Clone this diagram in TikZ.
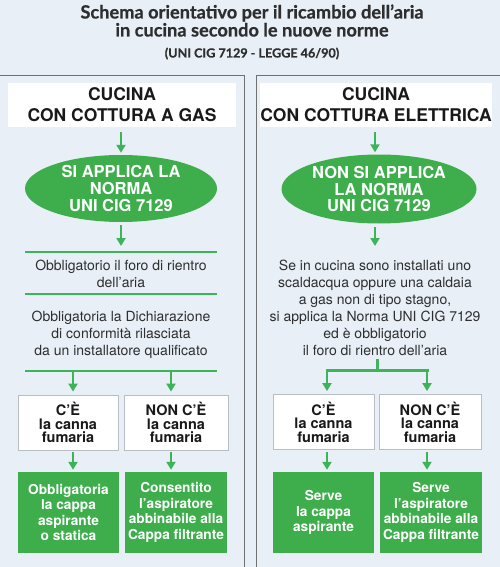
\documentclass[tikz,border=0pt]{standalone}
\usepackage{fontspec}
\setmainfont{TeX Gyre Heros}
\newfontfamily\titlefont[BoldFeatures={FakeBold=0.6}]{Lato}
\usetikzlibrary{shapes.geometric,arrows.meta}
\definecolor{bg}{HTML}{E8EFF7}
\definecolor{gfill}{HTML}{3DAE4B}
\definecolor{garrow}{HTML}{3DB45A}
\definecolor{pline}{HTML}{707070}
\definecolor{txt}{HTML}{2E2E2E}
\definecolor{bbord}{HTML}{B8BEC4}
\begin{document}
\begin{tikzpicture}[x=1pt,y=-1pt,
 hdr/.style={fill=white, minimum width=228pt, minimum height=44pt, inner sep=0pt, align=center, font=\fontsize{17.5}{21}\selectfont\bfseries, text=black!90},
 oval/.style={ellipse, fill=gfill, inner sep=0pt, align=center, text=white, font=\fontsize{16.5}{16.8}\selectfont\bfseries},
 body/.style={align=center, text=txt, font=\fontsize{14}{17}\selectfont, inner sep=0pt},
 wbox/.style={draw=bbord, fill=white, line width=0.8pt, minimum height=55pt, inner sep=0pt, align=center, font=\fontsize{14.5}{13.5}\selectfont\bfseries, text=black!90},
 gbox/.style={fill=gfill, minimum height=81pt, inner sep=0pt, align=center, text=white, font=\fontsize{13.7}{15.6}\selectfont\bfseries},
 garr/.style={draw=garrow, line width=2.6pt, -{Triangle[width=9pt,length=8pt]}},
 gline/.style={draw=garrow, line width=1.6pt},
 tline/.style={draw=garrow, line width=3pt},
 ttl/.style={inner sep=0pt, anchor=base, text=txt},
]
\useasboundingbox (0,0) rectangle (500,567);
\fill[bg] (0,0) rectangle (500,567);
% panel borders
\draw[pline, line width=0.9pt] (0,75) -- (244,75) -- (244,567);
\draw[pline, line width=0.9pt] (500,75) -- (256,75) -- (256,567);
% title
\node[ttl, font=\titlefont\fontsize{18.2}{20}\selectfont\bfseries] (t1) at (252,18.5) {Schema orientativo per il ricambio dell’aria};
\node[ttl, font=\titlefont\fontsize{18.2}{20}\selectfont\bfseries] (t2) at (252,36.5) {in cucina secondo le nuove norme};
\node[ttl, font=\titlefont\fontsize{12.6}{13}\selectfont\bfseries] (t3) at (252,57.5) {(UNI CIG 7129 - LEGGE 46/90)};

% ---------- left panel ----------
\node[hdr] (hL) at (122,105) {CUCINA\\CON COTTURA A GAS};
\node[oval, minimum width=192pt, minimum height=67pt] (eL) at (121,188.5) {SI APPLICA LA\\NORMA\\UNI CIG 7129};
\draw[garr, shorten <=5pt, shorten >=2pt] (hL.south -| eL.north) -- (eL.north);
\coordinate (l1a) at (25,252);
\coordinate (l1b) at (217,252);
\coordinate (l1m) at (121,252);
\draw[garr, shorten <=3pt, shorten >=6pt] (eL.south) -- (l1m);
\draw[gline] (l1a) -- (l1b);
\node[body, anchor=base] (bL1) at (121,287) {Obbligatorio il foro di rientro\\dell’aria};
\coordinate (l2a) at (25,294);
\coordinate (l2b) at (217,294);
\draw[gline] (l2a) -- (l2b);
\node[body, anchor=base] (bL2) at (121,355) {Obbligatoria la Dichiarazione\\di conformità rilasciata\\da un installatore qualificato};
\coordinate (l3a) at (25,371);
\coordinate (l3b) at (217,371);
\draw[gline] (l3a) -- (l3b);
\node[wbox, minimum width=100pt] (wL1) at (68,422.5) {C’È\\la canna\\fumaria};
\node[wbox, minimum width=104pt] (wL2) at (176,422.5) {NON C’È\\la canna\\fumaria};
\node[gbox, minimum width=101pt] (gL1) at (68.5,512.5) {Obbligatoria\\la cappa\\aspirante\\o statica};
\node[gbox, minimum width=102pt] (gL2) at (176,512.5) {Consentito\\l’aspiratore\\abbinabile alla\\Cappa filtrante};
\coordinate (aL1) at (73,371);
\coordinate (aL2) at (171,371);
\draw[garr, shorten >=3pt] (aL1) -- (aL1 |- wL1.north);
\draw[garr, shorten >=3pt] (aL2) -- (aL2 |- wL2.north);
\draw[garr, shorten <=2pt, shorten >=2pt] (aL1 |- wL1.south) -- (aL1 |- gL1.north);
\draw[garr, shorten <=2pt, shorten >=2pt] (aL2 |- wL2.south) -- (aL2 |- gL2.north);

% ---------- right panel ----------
\node[hdr] (hR) at (376,105) {CUCINA\\CON COTTURA ELETTRICA};
\node[oval, minimum width=195pt, minimum height=69pt] (eR) at (379,189) {NON SI APPLICA\\LA NORMA\\UNI CIG 7129};
\draw[garr, shorten <=5pt, shorten >=2pt] (hR.south -| 375,0) -- (eR.north -| 375,0);
\coordinate (rT) at (375,246);
\draw[garr, shorten <=3pt] (eR.south -| 375,0) -- (rT);
\node[body, anchor=base] (bR) at (375,355.5) {Se in cucina sono installati uno\\scaldacqua oppure una caldaia\\a gas non di tipo stagno,\\si applica la Norma UNI CIG 7129\\ed è obbligatorio\\il foro di rientro dell’aria};
\coordinate (rS) at (377,359);
\coordinate (rJ) at (377,370);
\coordinate (rA1) at (327,370);
\coordinate (rA2) at (427,370);
\node[wbox, minimum width=101pt] (wR1) at (323.5,422) {C’È\\la canna\\fumaria};
\node[wbox, minimum width=102pt] (wR2) at (430,422) {NON C’È\\la canna\\fumaria};
\node[gbox, minimum width=101pt] (gR1) at (323.5,512.5) {Serve\\la cappa\\aspirante};
\node[gbox, minimum width=102pt] (gR2) at (431,512.5) {Serve\\l’aspiratore\\abbinabile alla\\Cappa filtrante};
\draw[tline] (rS) -- (rJ);
\draw[tline, line cap=rect] (rA1) -- (rA2);
\draw[garr, shorten >=3pt] (rA1) -- (rA1 |- wR1.north);
\draw[garr, shorten >=3pt] (rA2) -- (rA2 |- wR2.north);
\draw[garr, shorten <=2pt, shorten >=2pt] (rA1 |- wR1.south) -- (rA1 |- gR1.north);
\draw[garr, shorten <=2pt, shorten >=2pt] (rA2 |- wR2.south) -- (rA2 |- gR2.north);
\end{tikzpicture}
\end{document}
